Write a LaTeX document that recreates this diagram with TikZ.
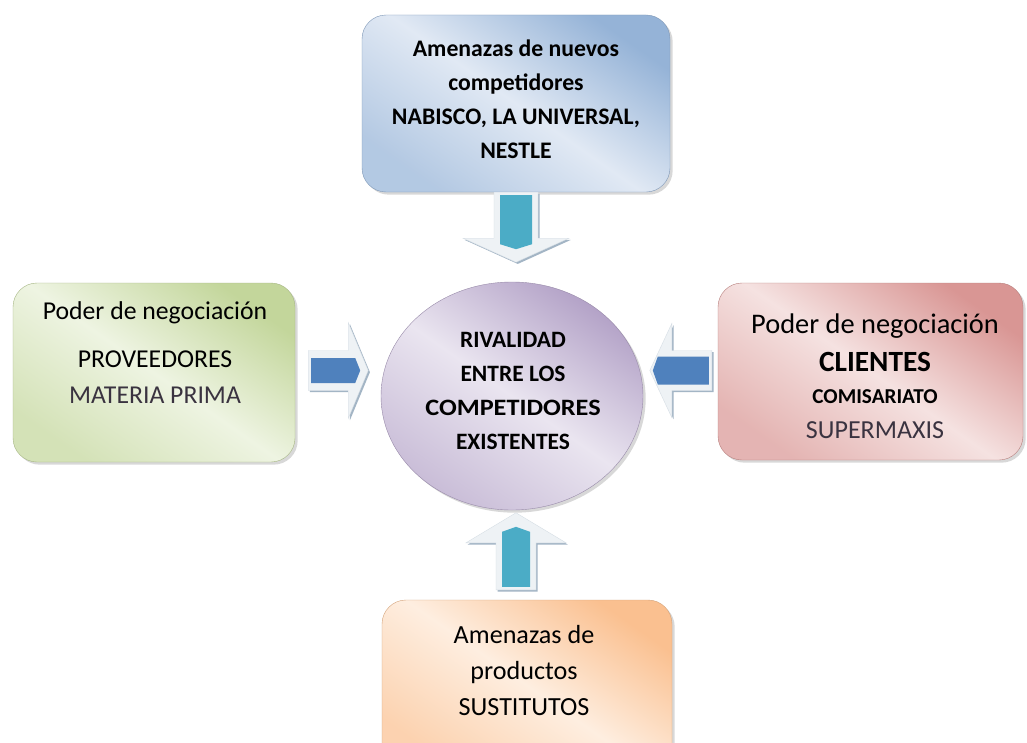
\documentclass[tikz,border=0pt]{standalone}
\usepackage{fontspec}
\setmainfont{Carlito}
\usetikzlibrary{shadows,calc,shapes.geometric}
\definecolor{bluedk}{HTML}{95B3D7}\definecolor{bluelt}{HTML}{E1E9F4}
\definecolor{greendk}{HTML}{C3D69B}\definecolor{greenlt}{HTML}{EEF4E2}
\definecolor{reddk}{HTML}{D99694}\definecolor{redlt}{HTML}{F5E2E1}
\definecolor{orangedk}{HTML}{FAC090}\definecolor{orangelt}{HTML}{FEEEE0}
\definecolor{purpledk}{HTML}{B3A2C7}\definecolor{purplelt}{HTML}{EAE5F0}
\definecolor{teal}{HTML}{4BACC6}\definecolor{arrblue}{HTML}{4F81BD}
\definecolor{arrshade}{HTML}{A3B5C5}\definecolor{arrpale}{HTML}{EEF2F5}
\definecolor{txtgray}{HTML}{3A3340}
\newcommand\blockarrow[9]{%
  \begin{scope}[shift={#1}, xshift=1.3pt, yshift=-1.3pt, rotate=#2]
    \fill[arrshade] (0,-#5) -- (#3,-#5) -- (#3,-#6) -- (#4,0) -- (#3,#6) -- (#3,#5) -- (0,#5) -- cycle;
  \end{scope}
  \begin{scope}[shift={#1}, rotate=#2]
    \fill[arrpale, draw=arrshade!45, line width=0.3pt] (0,-#5) -- (#3,-#5) -- (#3,-#6) -- (#4,0) -- (#3,#6) -- (#3,#5) -- (0,#5) -- cycle;
    \fill[#9] (3,-#8) -- (#7,-#8) -- ({#7+5},0) -- (#7,#8) -- (3,#8) -- cycle;
  \end{scope}}
\tikzset{
  box/.style={rectangle, rounded corners=18pt, inner sep=0pt, draw=#1dk!85!black, line width=0.3pt,
    drop shadow={shadow xshift=2pt, shadow yshift=-2pt, opacity=0.3},
    top color=#1dk, bottom color=#1dk!60!#1lt, middle color=#1lt, shading angle=-35},
  txt/.style={align=center, inner sep=0pt, text=black},
}
\begin{document}
\begin{tikzpicture}[x=0.75pt, y=-0.75pt]
\clip (0,0) rectangle (1027,742);
\fill[white] (0,0) rectangle (1027,742);
% boxes
\node[box=blue, minimum width=231pt, minimum height=132.75pt] (top) at (516,103.5) {};
\node[box=green, minimum width=211.5pt, minimum height=134.25pt] (left) at (154,372.5) {};
\node[box=red, minimum width=228.75pt, minimum height=132.75pt] (right) at (870.5,371.5) {};
\node[box=orange, minimum width=217.5pt, minimum height=127.5pt] (bot) at (527,685) {};
\node[ellipse, inner sep=0pt, minimum width=196.5pt, minimum height=171pt, draw=purpledk!85!black, line width=0.3pt,
  drop shadow={shadow xshift=2pt, shadow yshift=-2pt, opacity=0.3},
  top color=purpledk, bottom color=purpledk!60!purplelt, middle color=purplelt, shading angle=-35] (mid) at (512,396) {};
% texts
\node[txt, font=\bfseries\fontsize{17.8pt}{25.5pt}\selectfont] (ttop) at (516,99.5)
  {Amenazas de nuevos\\competidores\\NABISCO, LA UNIVERSAL,\\NESTLE};
\node[txt, font=\fontsize{19.3pt}{27pt}\selectfont] (tleft) at (155,353)
  {Poder de negociación\\[9pt]PROVEEDORES\\{\color{txtgray}MATERIA PRIMA}};
\node[txt, font=\fontsize{21.3pt}{26pt}\selectfont] (tright) at (875,376.5)
  {Poder de negociación\\[2.5pt]{\bfseries\fontsize{22pt}{26pt}\selectfont CLIENTES}\\[-2pt]{\bfseries\fontsize{15.9pt}{24pt}\selectfont COMISARIATO}\\[0pt]{\color{txtgray}\fontsize{19.5pt}{26pt}\selectfont SUPERMAXIS}};
\node[txt, font=\bfseries\fontsize{17.6pt}{25.5pt}\selectfont] (tmid) at (513,390.5)
  {RIVALIDAD\\ENTRE LOS\\\scalebox{1.12}[1]{COMPETIDORES}\\EXISTENTES};
\node[txt, font=\fontsize{19.6pt}{27pt}\selectfont] (tbot) at (524,671)
  {Amenazas de\\productos\\SUSTITUTOS};
% block arrows between the forces and the rivalry
\blockarrow{(top.south)}{-90}{46}{70}{22}{53}{52}{16}{teal}
\blockarrow{($(bot.north)+(-11,-10)$)}{90}{47}{77}{20}{50}{58}{14}{teal}
\blockarrow{($(left.east)+(13,-2)$)}{0}{40}{60}{20}{48}{47}{12.5}{arrblue}
\blockarrow{($(right.west)+(-6,-1)$)}{180}{40}{62}{20}{47}{54}{14}{arrblue}
\end{tikzpicture}
\end{document}
